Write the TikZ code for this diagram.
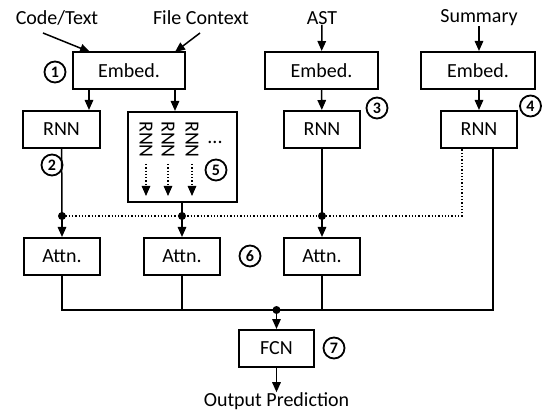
\documentclass[tikz,border=0pt]{standalone}
\usepackage{fontspec}
\setmainfont{Carlito}
\usetikzlibrary{arrows.meta,calc}
\begin{document}
\begin{tikzpicture}[x=1pt,y=-1pt,
 box/.style={draw,line width=2pt,minimum height=37pt,inner sep=0pt,font=\fontsize{20}{20}\selectfont},
 lbl/.style={font=\fontsize{20}{20}\selectfont,inner sep=0pt},
 num/.style={draw,circle,line width=1.8pt,minimum size=21pt,inner sep=0pt,font=\fontsize{16}{16}\selectfont\bfseries},
 conn/.style={line width=1.5pt},
 arr/.style={conn,-{Triangle[length=10pt,width=8.5pt]}},
 dotl/.style={line width=1.3pt,dotted},
 dotn/.style={circle,fill,inner sep=0pt,minimum size=8pt}
]
\useasboundingbox (0,0) rectangle (542,412);

% input labels
\node[lbl] (codetext) at (57,18) {Code/Text};
\node[lbl] (filectx) at (201,18) {File Context};
\node[lbl] (ast) at (322,18) {AST};
\node[lbl] (summary) at (479,18) {Summary};

% embed boxes
\node[box,minimum width=112pt] (emb1) at (129,70.5) {Embed.};
\node[box,minimum width=113pt] (emb2) at (321.5,70.5) {Embed.};
\node[box,minimum width=114pt] (emb4) at (478,70.5) {Embed.};

% rnn boxes
\node[box,minimum width=77pt] (rnn1) at (61.5,129.5) {RNN};
\node[box,minimum width=109pt,minimum height=90pt] (big5) at (182,157) {};
\node[box,minimum width=76pt] (rnn3) at (322,129.5) {RNN};
\node[box,minimum width=76pt] (rnn4) at (479,129.5) {RNN};

% rotated RNNs in box 5
\node[lbl,rotate=-90] (r5a) at (146,139.5) {RNN};
\node[lbl,rotate=-90] (r5b) at (168,139.5) {RNN};
\node[lbl,rotate=-90] (r5c) at (192,139.5) {RNN};
\node[lbl,anchor=base] (r5d) at (215,144) {...};

% attention boxes
\node[box,minimum width=76pt] (attn1) at (62,256.5) {Attn.};
\node[box,minimum width=76pt] (attn2) at (182,256.5) {Attn.};
\node[box,minimum width=76pt] (attn3) at (322,256.5) {Attn.};

% fcn and output
\node[box,minimum width=75pt] (fcn) at (276.5,348.5) {FCN};
\node[lbl] (out) at (276.5,401) {Output Prediction};

% numbered circles
\node[num] (n1) at (55,72) {1};
\node[num] (n2) at (52,165) {2};
\node[num] (n3) at (377,108) {3};
\node[num] (n4) at (530.5,106) {4};
\node[num] (n5) at (216,170) {5};
\node[num] (n6) at (250,256) {6};
\node[num] (n7) at (334,348) {7};

% helper coordinates
\coordinate (ct0) at (43,33);
\coordinate (ct1) at (90,52);
\coordinate (fc0) at (200,33);
\coordinate (fc1) at (175,52);
\coordinate (xa) at (89,0);
\coordinate (xb) at (175,0);
\coordinate (d1) at (62,216);
\coordinate (d2) at (182,216);
\coordinate (d3) at (322,216);
\coordinate (d4) at (462,216);
\coordinate (jr) at (493,310);
\coordinate (dj) at (276.5,310);
\coordinate (v1) at (146,164);
\coordinate (v2) at (168,164);
\coordinate (v3) at (192,164);
\coordinate (w1) at (146,196);
\coordinate (w2) at (168,196);
\coordinate (w3) at (192,196);

% inputs
\draw[arr] (ct0) -- (ct1);
\draw[arr] (fc0) -- (fc1);
\draw[arr] (ast) -- (emb2);
\draw[arr] (summary) -- (emb4.north -| summary);

% embed -> rnn
\draw[arr] (emb1.south -| xa) -- (rnn1.north -| xa);
\draw[arr] (emb1.south -| xb) -- (big5.north -| xb);
\draw[arr] (emb2) -- (rnn3);
\draw[arr] (emb4.south -| rnn4) -- (rnn4);

% dotted arrows inside box 5
\draw[dotl,-{Triangle[length=10pt,width=8.5pt]}] (v1) -- (w1);
\draw[dotl,-{Triangle[length=10pt,width=8.5pt]}] (v2) -- (w2);
\draw[dotl,-{Triangle[length=10pt,width=8.5pt]}] (v3) -- (w3);

% rnn -> attention
\draw[conn] (rnn1) -- (d1);
\draw[arr] (d1) -- (attn1);
\draw[conn] (big5) -- (d2);
\draw[arr] (d2) -- (attn2);
\draw[conn] (rnn3) -- (d3);
\draw[arr] (d3) -- (attn3);

% dotted summary context
\draw[dotl] (d1) -- (d4) -- (rnn4.south -| d4);

% dots
\node[dotn] (dot1) at (d1) {};
\node[dotn] (dot2) at (d2) {};
\node[dotn] (dot3) at (d3) {};
\node[dotn] (dot4) at (dj) {};

% attention -> fcn
\draw[conn] (attn1.south) |- (jr) -- (rnn4.south -| jr);
\draw[conn] (attn2.south) -- (attn2.south |- jr);
\draw[conn] (attn3.south) -- (attn3.south |- jr);
\draw[arr] (dot4.center) -- (fcn);
\draw[arr] (fcn) -- (out);
\end{tikzpicture}
\end{document}
